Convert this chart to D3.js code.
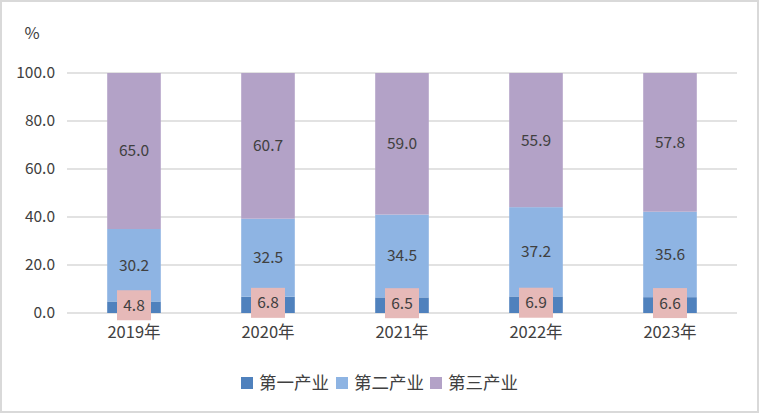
<!DOCTYPE html>
<html><head><meta charset="utf-8">
<script src="https://cdn.jsdelivr.net/npm/d3@7/dist/d3.min.js"></script>
<style>body{margin:0;background:#fff;}svg{display:block;}</style>
</head><body>
<svg id="c" width="760" height="415"></svg>
<script>
const categories = ["2019年","2020年","2021年","2022年","2023年"];
const seriesNames = ["第一产业","第二产业","第三产业"];
const primary = [4.8, 6.8, 6.5, 6.9, 6.6];
const secondary = [30.2, 32.5, 34.5, 37.2, 35.6];
const tertiary = [65.0, 60.7, 59.0, 55.9, 57.8];
const yTicks = [0, 20, 40, 60, 80, 100];
const colors = ["#4F81BD", "#8EB4E3", "#B3A2C7"];

const svg = d3.select("#c");
const font = "'Noto Sans CJK SC', 'Noto Sans', sans-serif";
const textColor = "#404040";

svg.append("rect").attr("x",1).attr("y",1).attr("width",757).attr("height",411)
  .attr("fill","#fff").attr("stroke","#d9d9d9").attr("stroke-width",2);

const x = d3.scaleBand().domain(categories).range([67, 737]).paddingInner(0.6).paddingOuter(0.3);
const y = d3.scaleLinear().domain([0, 100]).range([313, 73]);

// grid
svg.append("g").selectAll("line").data(yTicks).join("line")
  .attr("x1", 67).attr("x2", 737)
  .attr("y1", d => y(d)).attr("y2", d => y(d))
  .attr("stroke", "#d9d9d9").attr("stroke-width", 1.5);

// y axis labels
const yAxis = d3.axisLeft(y).tickValues(yTicks).tickFormat(d3.format(".1f")).tickSize(0).tickPadding(0);
const ya = svg.append("g").attr("transform","translate(55,0)").call(yAxis);
ya.select(".domain").remove();
ya.selectAll("text").attr("font-family", font).attr("font-size", 15.5).attr("fill", textColor);

svg.append("text").attr("x", 32).attr("y", 39).attr("text-anchor","middle")
  .attr("font-family", font).attr("font-size", 16.5).attr("fill", textColor).text("%");

// stacked data
const rows = categories.map((c,i) => ({cat:c, s0: primary[i], s1: secondary[i], s2: tertiary[i]}));
const stack = d3.stack().keys(["s0","s1","s2"])(rows);

const g = svg.append("g");
stack.forEach((layer, li) => {
  g.append("g").selectAll("rect").data(layer).join("rect")
    .attr("x", d => x(d.data.cat))
    .attr("width", x.bandwidth())
    .attr("y", d => y(d[1]))
    .attr("height", d => y(d[0]) - y(d[1]))
    .attr("fill", colors[li]);
});

// labels for series 2 & 3
stack.slice(1).forEach(layer => {
  g.append("g").selectAll("text").data(layer).join("text")
    .attr("x", d => x(d.data.cat) + x.bandwidth()/2)
    .attr("y", d => (y(d[0]) + y(d[1]))/2)
    .attr("dy", "0.35em")
    .attr("text-anchor","middle")
    .attr("font-family", font).attr("font-size", 15.5).attr("fill", textColor)
    .text(d => (d[1]-d[0]).toFixed(1));
});

// labels for series 1 in pink boxes
const lab = g.append("g").selectAll("g").data(stack[0]).join("g")
  .attr("transform", d => `translate(${x(d.data.cat) + x.bandwidth()/2},${(y(d[0]) + y(d[1]))/2 - 2})`);
lab.append("rect").attr("x", -17).attr("y", -15).attr("width", 34).attr("height", 30).attr("fill", "#E6B9B8");
lab.append("text").attr("text-anchor","middle").attr("dy","0.35em")
  .attr("font-family", font).attr("font-size", 15.5).attr("fill", textColor)
  .text(d => (d[1]-d[0]).toFixed(1));

// x axis labels
const xAxis = d3.axisBottom(x).tickSize(0).tickPadding(0);
const xa = svg.append("g").attr("transform","translate(0,326)").call(xAxis);
xa.select(".domain").remove();
xa.selectAll("text").attr("font-family", font).attr("font-size", 16.5).attr("fill", textColor);

// legend
const legendX = [241, 336, 430];
const lg = svg.append("g").selectAll("g").data(seriesNames).join("g")
  .attr("transform", (d,i) => `translate(${legendX[i]},383)`);
lg.append("rect").attr("x",0).attr("y",-6).attr("width",12).attr("height",12).attr("fill",(d,i)=>colors[i]);
lg.append("text").attr("x", 18).attr("dy","0.35em")
  .attr("font-family", font).attr("font-size", 17.5).attr("fill", textColor).text(d => d);
</script>
</body></html>
